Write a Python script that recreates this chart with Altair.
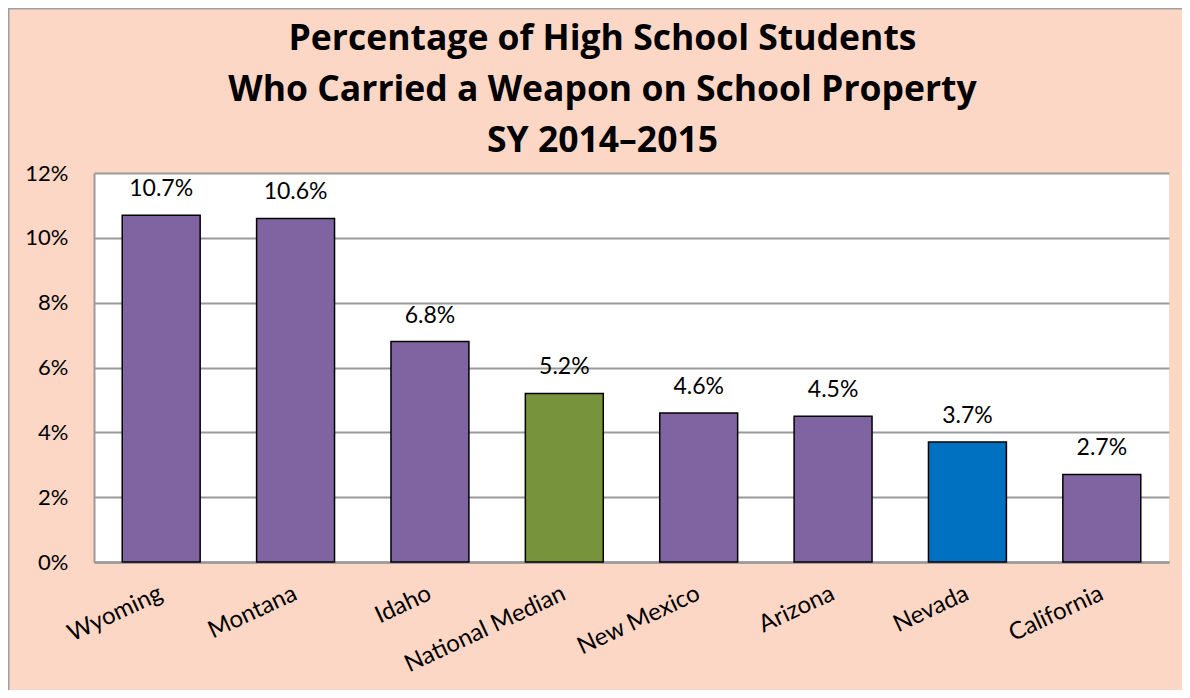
import altair as alt
import pandas as pd

states = ["Wyoming", "Montana", "Idaho", "National Median",
          "New Mexico", "Arizona", "Nevada", "California"]
values = [10.7, 10.6, 6.8, 5.2, 4.6, 4.5, 3.7, 2.7]
groups = ["State", "State", "State", "Median", "State", "State", "Focus", "State"]
y_ticks = [0, 0.02, 0.04, 0.06, 0.08, 0.10, 0.12]
title_lines = ["Percentage of High School Students",
               "Who Carried a Weapon on School Property",
               "SY 2014\u20132015"]

df = pd.DataFrame({"state": states, "pct": [v / 100 for v in values], "group": groups})

W, H = 1075, 389
PL, PT, PR, PB = 86, 165, 13, 128
FONT = "Lato"
TITLE_FONT = "Open Sans"

x = alt.X("state:N", sort=states, title=None,
          scale=alt.Scale(paddingInner=0.42, paddingOuter=0.21),
          axis=alt.Axis(labelAngle=-25, labelAlign="right", labelBaseline="middle",
                        labelPadding=30, ticks=False, domain=True, domainColor="#9a9a9a",
                        domainWidth=2.5, labelFont=FONT, labelFontSize=24,
                        labelColor="#000000"))
y = alt.Y("pct:Q", title=None,
          scale=alt.Scale(domain=[0, 0.12]),
          axis=alt.Axis(values=y_ticks, format=".0%", ticks=False, domain=True,
                        domainColor="#9a9a9a", domainWidth=2, grid=True,
                        gridColor="#9a9a9a", gridWidth=1.8, labelPadding=26,
                        labelFont=FONT, labelFontSize=22, labelColor="#000000"))

bars = alt.Chart(df).mark_bar(stroke="#000000", strokeWidth=1.5).encode(
    x=x, y=y,
    color=alt.Color("group:N", legend=None,
                    scale=alt.Scale(domain=["State", "Median", "Focus"],
                                    range=["#8064A2", "#77933C", "#0070C0"])),
)

texts = alt.Chart(df).mark_text(font=FONT, fontSize=23, baseline="alphabetic",
                                dy=-19, color="#000000").encode(
    x=alt.X("state:N", sort=states),
    y="pct:Q",
    text=alt.Text("pct:Q", format=".1%"),
)

frame_df = pd.DataFrame({"k": [0]})
left_edge = alt.Chart(frame_df).mark_rule(color="#a0a0a0", strokeWidth=1.5).encode(
    x=alt.value(-PL + 0.75), y=alt.value(-PT), y2=alt.value(H + PB))
top_edge = alt.Chart(frame_df).mark_rule(color="#a0a0a0", strokeWidth=1.5).encode(
    x=alt.value(-PL), x2=alt.value(W + PR), y=alt.value(-PT + 0.75))

chart = alt.layer(bars, texts, left_edge, top_edge).properties(
    width=W, height=H,
    title=alt.TitleParams(text=title_lines, font=TITLE_FONT, fontSize=35.5, fontWeight="bold",
                          color="#000000", lineHeight=51, anchor="middle",
                          baseline="alphabetic", dx=-29, dy=180, offset=0),
    background="#FDD7C5",
    padding={"left": PL, "top": PT, "right": PR, "bottom": PB},
    autosize=alt.AutoSizeParams(type="none"),
).configure_view(stroke=None, fill="#FFFFFF")

chart.save("out.html", embed_options={"renderer": "svg", "actions": False})
